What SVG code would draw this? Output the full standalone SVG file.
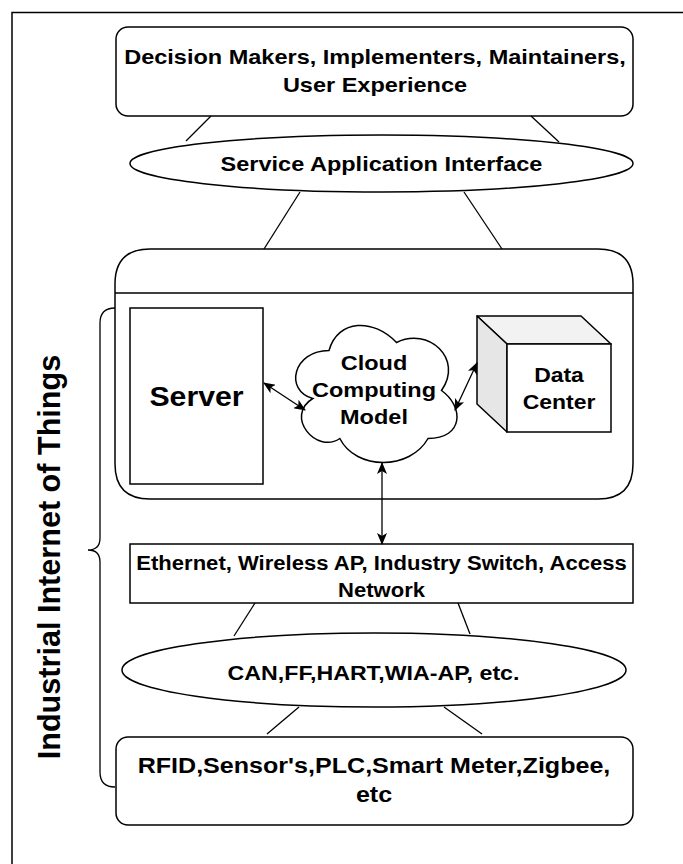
<svg xmlns="http://www.w3.org/2000/svg" width="683" height="864" viewBox="0 0 683 864">
  <defs>
    <marker id="arrow" viewBox="0 0 12 10" refX="11" refY="5" markerWidth="12" markerHeight="10" markerUnits="userSpaceOnUse" orient="auto-start-reverse">
      <path d="M0,0 L12,5 L0,10 L3,5 Z" fill="#000"/>
    </marker>
    <style>
      .shape { fill: #fff; stroke: #000; stroke-width: 1.5; }
      .line { fill: none; stroke: #000; stroke-width: 1.3; }
      .lbl { font-family: "Liberation Sans", Arial, Helvetica, sans-serif; font-weight: bold; fill: #000; text-anchor: middle; }
    </style>
  </defs>

  <rect x="0" y="0" width="683" height="864" fill="#fff"/>
  <!-- outer frame, open to the right and bottom -->
  <rect id="frame" x="12" y="12.5" width="720" height="900" fill="none" stroke="#000" stroke-width="1.5"/>

  <g id="users">
    <rect class="shape" x="116" y="27" width="517" height="89" rx="12"/>
    <text class="lbl" transform="translate(375,64) scale(1.12,1)" font-size="21">Decision Makers, Implementers, Maintainers,</text>
    <text class="lbl" transform="translate(375,92) scale(1.12,1)" font-size="21">User Experience</text>
  </g>

  <g id="service-interface">
    <ellipse class="shape" cx="381.5" cy="163.5" rx="251.5" ry="28.5"/>
    <text class="lbl" transform="translate(381.5,171) scale(1.12,1)" font-size="21">Service Application Interface</text>
  </g>

  <g id="cloud-layer">
    <path class="shape" d="M150,249 L598,249 Q633,249 633,284 L633,464 Q633,499 598,499 L150,499 Q115,499 115,464 L115,284 Q115,249 150,249 Z"/>
    <line x1="115" y1="293" x2="633" y2="293" stroke="#000" stroke-width="1.5"/>
  </g>

  <g id="server">
    <rect class="shape" x="130" y="308" width="133" height="176"/>
    <text class="lbl" transform="translate(196.5,406) scale(1.12,1)" font-size="27">Server</text>
  </g>

  <g id="cloud">
    <path class="shape" transform="translate(284,310.5) scale(180,160)" vector-effect="non-scaling-stroke"
      d="M0.25,0.25 C0.05,0.25 0,0.5 0.16,0.55 C0,0.66 0.18,0.9 0.31,0.8 C0.4,1 0.7,1 0.8,0.8 C1,0.8 1,0.6 0.875,0.5 C1,0.3 0.8,0.1 0.625,0.2 C0.5,0.05 0.3,0.05 0.25,0.25 Z"/>
    <text class="lbl" transform="translate(374,370) scale(1.12,1)" font-size="21">Cloud</text>
    <text class="lbl" transform="translate(374,397) scale(1.12,1)" font-size="21">Computing</text>
    <text class="lbl" transform="translate(374,424) scale(1.12,1)" font-size="21">Model</text>
  </g>

  <g id="data-center">
    <polygon points="477,316 581,316 611,344 507,344" fill="#f2f2f2" stroke="#000" stroke-width="1.5" stroke-linejoin="round"/>
    <polygon points="477,316 507,344 507,432 477,404" fill="#e6e6e6" stroke="#000" stroke-width="1.5" stroke-linejoin="round"/>
    <rect class="shape" x="507" y="344" width="104" height="88"/>
    <text class="lbl" transform="translate(559,382) scale(1.12,1)" font-size="20.5">Data</text>
    <text class="lbl" transform="translate(559,409) scale(1.12,1)" font-size="20.5">Center</text>
  </g>

  <g id="network">
    <rect class="shape" x="130" y="544" width="503" height="59"/>
    <text class="lbl" transform="translate(381.5,570) scale(1.12,1)" font-size="19.7">Ethernet, Wireless AP, Industry Switch, Access</text>
    <text class="lbl" transform="translate(381.5,597) scale(1.12,1)" font-size="19.7">Network</text>
  </g>

  <g id="fieldbus">
    <ellipse class="shape" cx="374" cy="670" rx="252" ry="37"/>
    <text class="lbl" transform="translate(373.5,680) scale(1.12,1)" font-size="20.7">CAN,FF,HART,WIA-AP, etc.</text>
  </g>

  <g id="devices">
    <rect class="shape" x="116" y="737" width="517" height="88" rx="12"/>
    <text class="lbl" transform="translate(374,773) scale(1.12,1)" font-size="22.4">RFID,Sensor's,PLC,Smart Meter,Zigbee,</text>
    <text class="lbl" transform="translate(374,802) scale(1.12,1)" font-size="22.4">etc</text>
  </g>

  <g id="iiot-label">
    <text class="lbl" transform="translate(60,557) rotate(-90)" font-size="30.6">Industrial Internet of Things</text>
  </g>

  <g id="connectors">
    <!-- plain tie lines between layers -->
    <line class="line" x1="211" y1="116" x2="186" y2="141"/>
    <line class="line" x1="531" y1="116" x2="559" y2="142"/>
    <line class="line" x1="300" y1="192" x2="264" y2="249"/>
    <line class="line" x1="464" y1="192" x2="502" y2="249"/>
    <line class="line" x1="255" y1="603" x2="234" y2="636"/>
    <line class="line" x1="458" y1="603" x2="470" y2="634"/>
    <line class="line" x1="299" y1="707" x2="267" y2="734"/>
    <line class="line" x1="444" y1="707" x2="482" y2="734"/>
    <!-- bidirectional links -->
    <line class="line" x1="264" y1="383" x2="305" y2="410" marker-start="url(#arrow)" marker-end="url(#arrow)"/>
    <line class="line" x1="455" y1="410" x2="477" y2="363" marker-start="url(#arrow)" marker-end="url(#arrow)"/>
    <line class="line" x1="382" y1="463" x2="382" y2="544" marker-start="url(#arrow)" marker-end="url(#arrow)"/>
    <!-- grouping brace -->
    <path class="line" d="M115,308 Q100,308 100,323 L100,538 Q100,550 88,550 Q100,550 100,562 L100,772 Q100,787 115,787"/>
  </g>
</svg>
